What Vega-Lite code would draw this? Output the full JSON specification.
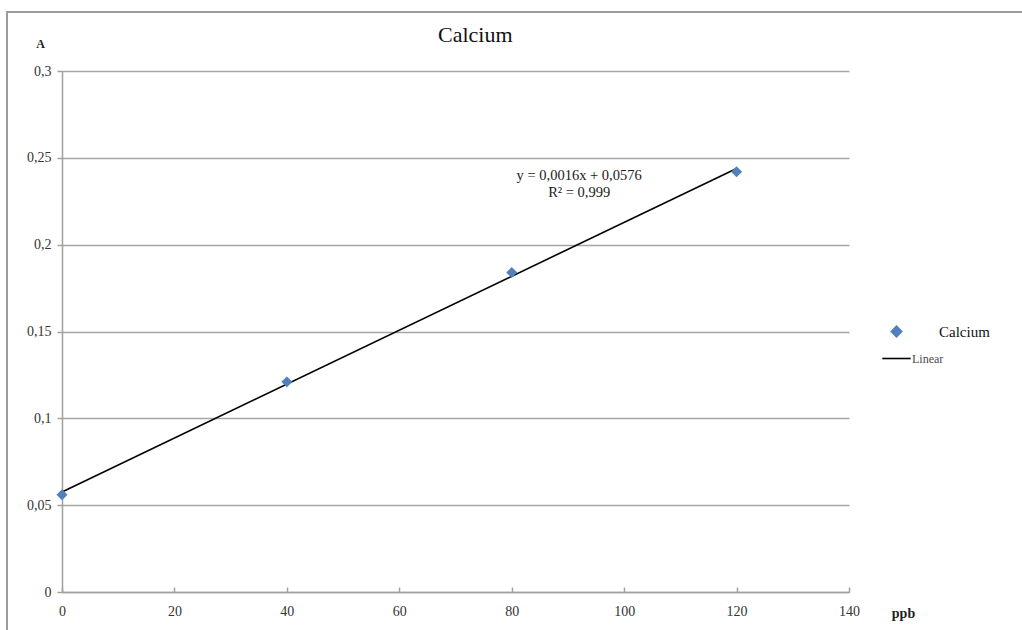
{
  "$schema": "https://vega.github.io/schema/vega-lite/v6.json",
  "autosize": "none",
  "padding": {"left": 7, "top": 12, "right": 0, "bottom": 0},
  "width": 1030,
  "height": 630,
  "background": "white",
  "title": {
    "text": "Calcium",
    "anchor": "start",
    "dx": 431,
    "dy": 52,
    "offset": 0,
    "baseline": "alphabetic",
    "font": "Liberation Serif",
    "fontSize": 22,
    "fontWeight": "normal",
    "color": "#111111"
  },
  "config": {
    "locale": {
      "number": {"decimal": ",", "thousands": ".", "grouping": [3], "currency": ["", " €"]}
    },
    "view": {"stroke": "#9c9c9c", "strokeWidth": 2},
    "axis": {
      "labelFont": "Liberation Serif",
      "labelFontSize": 14,
      "labelColor": "#333333",
      "labelFlush": false,
      "domainColor": "#a0a0a0",
      "domainWidth": 1.5,
      "tickColor": "#a0a0a0",
      "tickWidth": 1.5,
      "gridColor": "#a6a6a6",
      "gridWidth": 1.5,
      "titleFont": "Liberation Serif",
      "titleFontWeight": "bold",
      "titleColor": "#222222"
    },
    "legend": {
      "title": null,
      "orient": "none",
      "legendX": 882,
      "legendY": 312,
      "padding": 0,
      "symbolSize": 110,
      "labelOffset": 35,
      "rowPadding": 11,
      "labelFont": "Liberation Serif",
      "labelFontSize": 15,
      "labelColor": "#111111",
      "labelBaseline": "middle"
    }
  },
  "layer": [
    {
      "data": {"name": "calib"},
      "transform": [{"regression": "A", "on": "ppb"}],
      "mark": {"type": "line", "strokeWidth": 1.6},
      "encoding": {
        "x": {"field": "ppb", "type": "quantitative"},
        "y": {"field": "A", "type": "quantitative"},
        "color": {
          "datum": "Linear",
          "scale": {"domain": ["Calcium", "Linear"], "range": ["#4f81bd", "#000000"]},
          "legend": {
            "encode": {
              "symbols": {
                "update": {
                  "shape": {"signal": "datum.value === 'Linear' ? 'M-2.7,0H2.7' : 'diamond'"},
                  "fill": {"signal": "datum.value === 'Linear' ? 'transparent' : '#4f81bd'"},
                  "stroke": {"signal": "datum.value === 'Linear' ? '#111111' : 'transparent'"},
                  "strokeWidth": {"value": 1.6},
                  "opacity": {"value": 1}
                }
              },
              "labels": {
                "update": {
                  "fontSize": {"signal": "datum.value === 'Linear' ? 12 : 15"},
                  "fill": {"signal": "datum.value === 'Linear' ? '#4a4a4a' : '#111111'"},
                  "dx": {"signal": "datum.value === 'Linear' ? -27 : 0"}
                }
              }
            }
          }
        }
      }
    },
    {
      "data": {"name": "calib"},
      "mark": {"type": "point", "shape": "diamond", "filled": true, "size": 120, "opacity": 1},
      "encoding": {
        "x": {
          "field": "ppb",
          "type": "quantitative",
          "scale": {"domain": [0, 140], "range": [55, 842], "nice": false, "zero": false},
          "axis": {
            "title": "ppb",
            "titleX": 896,
            "titleY": 21,
            "titleAlign": "center",
            "titleBaseline": "middle",
            "titleFontSize": 14,
            "values": [0, 20, 40, 60, 80, 100, 120, 140],
            "offset": -50,
            "tickSize": -5,
            "labelPadding": 17,
            "grid": false
          }
        },
        "y": {
          "field": "A",
          "type": "quantitative",
          "scale": {"domain": [0, 0.3], "range": [580, 59], "nice": false, "zero": false},
          "axis": {
            "title": "A",
            "titleAngle": 0,
            "titleX": -22,
            "titleY": 31,
            "titleAlign": "center",
            "titleBaseline": "middle",
            "titleFontSize": 12,
            "values": [0, 0.05, 0.1, 0.15, 0.2, 0.25, 0.3],
            "format": "~g",
            "offset": -55,
            "tickSize": 5,
            "labelPadding": 6,
            "grid": true
          }
        },
        "color": {"datum": "Calcium"}
      }
    },
    {
      "data": {"values": [{"eq": "y = 0,0016x + 0,0576", "r2": "R² = 0,999"}]},
      "mark": {
        "type": "text",
        "align": "center",
        "baseline": "top",
        "font": "Liberation Serif",
        "fontSize": 14.5,
        "fontWeight": "normal",
        "lineHeight": 17,
        "color": "#1a1a1a"
      },
      "encoding": {
        "x": {"datum": 92, "type": "quantitative"},
        "y": {"datum": 0.2436, "type": "quantitative"},
        "text": {"value": ["y = 0,0016x + 0,0576", "R² = 0,999"]}
      }
    }
  ],
  "datasets": {
    "calib": [
      {"ppb": 0, "A": 0.056},
      {"ppb": 40, "A": 0.121},
      {"ppb": 80, "A": 0.184},
      {"ppb": 120, "A": 0.242}
    ]
  }
}
